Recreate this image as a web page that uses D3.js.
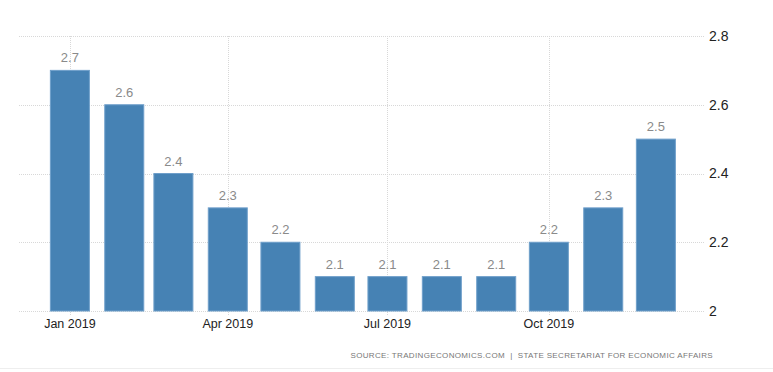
<!DOCTYPE html>
<html>
<head>
<meta charset="utf-8">
<script src="https://cdn.jsdelivr.net/npm/d3@7"></script>
<style>
  body { margin: 0; background: #fff; }
  svg { display: block; font-family: "Liberation Sans", Arial, sans-serif; }
</style>
</head>
<body>
<svg id="chart" width="773" height="372"></svg>
<script>
// monthly values, 2019
const months = ["2019-01-01", "2019-02-01", "2019-03-01", "2019-04-01", "2019-05-01", "2019-06-01",
                "2019-07-01", "2019-08-01", "2019-09-01", "2019-10-01", "2019-11-01", "2019-12-01"];
const values = [2.7, 2.6, 2.4, 2.3, 2.2, 2.1, 2.1, 2.1, 2.1, 2.2, 2.3, 2.5];
const yTicks = [2, 2.2, 2.4, 2.6, 2.8];
const xTicks = ["2019-01-01", "2019-04-01", "2019-07-01", "2019-10-01"];
const sourceText = "SOURCE: TRADINGECONOMICS.COM  |  STATE SECRETARIAT FOR ECONOMIC AFFAIRS";

const parse = d3.utcParse("%Y-%m-%d");
const data = months.map((m, i) => ({ date: parse(m), value: values[i] }));

const svg = d3.select("#chart");
const margin = { left: 19, right: 68, top: 36, bottom: 61 };
const width = 773, height = 372;

const x = d3.scaleUtc()
    .domain([parse("2018-12-03"), parse("2019-12-29")])
    .range([margin.left, width - margin.right]);
const y = d3.scaleLinear()
    .domain([2, 2.8])
    .range([height - margin.bottom, margin.top]);

const barW = 39;

// horizontal grid
svg.append("g")
    .selectAll("line")
    .data(yTicks)
    .join("line")
    .attr("x1", margin.left)
    .attr("x2", width - margin.right)
    .attr("y1", d => Math.round(y(d)) + 0.5)
    .attr("y2", d => Math.round(y(d)) + 0.5)
    .attr("stroke", "#d8d8d8")
    .attr("stroke-dasharray", "1,1");

// vertical grid
svg.append("g")
    .selectAll("line")
    .data(xTicks)
    .join("line")
    .attr("x1", d => Math.round(x(parse(d))) + 0.5)
    .attr("x2", d => Math.round(x(parse(d))) + 0.5)
    .attr("y1", margin.top)
    .attr("y2", height - margin.bottom + 5)
    .attr("stroke", "#d8d8d8")
    .attr("stroke-dasharray", "1,1");

// bars
svg.append("g")
    .selectAll("rect")
    .data(data)
    .join("rect")
    .attr("x", d => x(d.date) - barW / 2)
    .attr("y", d => y(d.value))
    .attr("width", barW)
    .attr("height", d => y(2) - y(d.value))
    .attr("fill", "#4682b4")
    .attr("stroke", "#6f9fca")
    .attr("stroke-width", 1);

// value labels
svg.append("g")
    .selectAll("text")
    .data(data)
    .join("text")
    .attr("x", d => x(d.date))
    .attr("y", d => y(d.value) - 8)
    .attr("text-anchor", "middle")
    .attr("font-size", 13)
    .attr("fill", "#8a8a8a")
    .text(d => d.value.toFixed(1));

// y axis labels on the right
svg.append("g")
    .selectAll("text")
    .data(yTicks)
    .join("text")
    .attr("x", width - margin.right + 4)
    .attr("y", d => y(d))
    .attr("dy", "0.35em")
    .attr("font-size", 14)
    .attr("fill", "#222")
    .text(d => d3.format("~g")(d));

// x axis labels
const fmt = d3.utcFormat("%b %Y");
svg.append("g")
    .selectAll("text")
    .data(xTicks)
    .join("text")
    .attr("x", d => x(parse(d)))
    .attr("y", height - margin.bottom + 17)
    .attr("text-anchor", "middle")
    .attr("font-size", 12.5)
    .attr("fill", "#222")
    .text(d => fmt(parse(d)));

// source line
svg.append("text")
    .attr("x", 713)
    .attr("y", 358)
    .attr("text-anchor", "end")
    .attr("font-size", 8)
    .attr("letter-spacing", 0.35)
    .attr("fill", "#777")
    .attr("xml:space", "preserve")
    .text(sourceText);

svg.append("line")
    .attr("x1", 0).attr("x2", width)
    .attr("y1", 368.5).attr("y2", 368.5)
    .attr("stroke", "#eee");
</script>
</body>
</html>
